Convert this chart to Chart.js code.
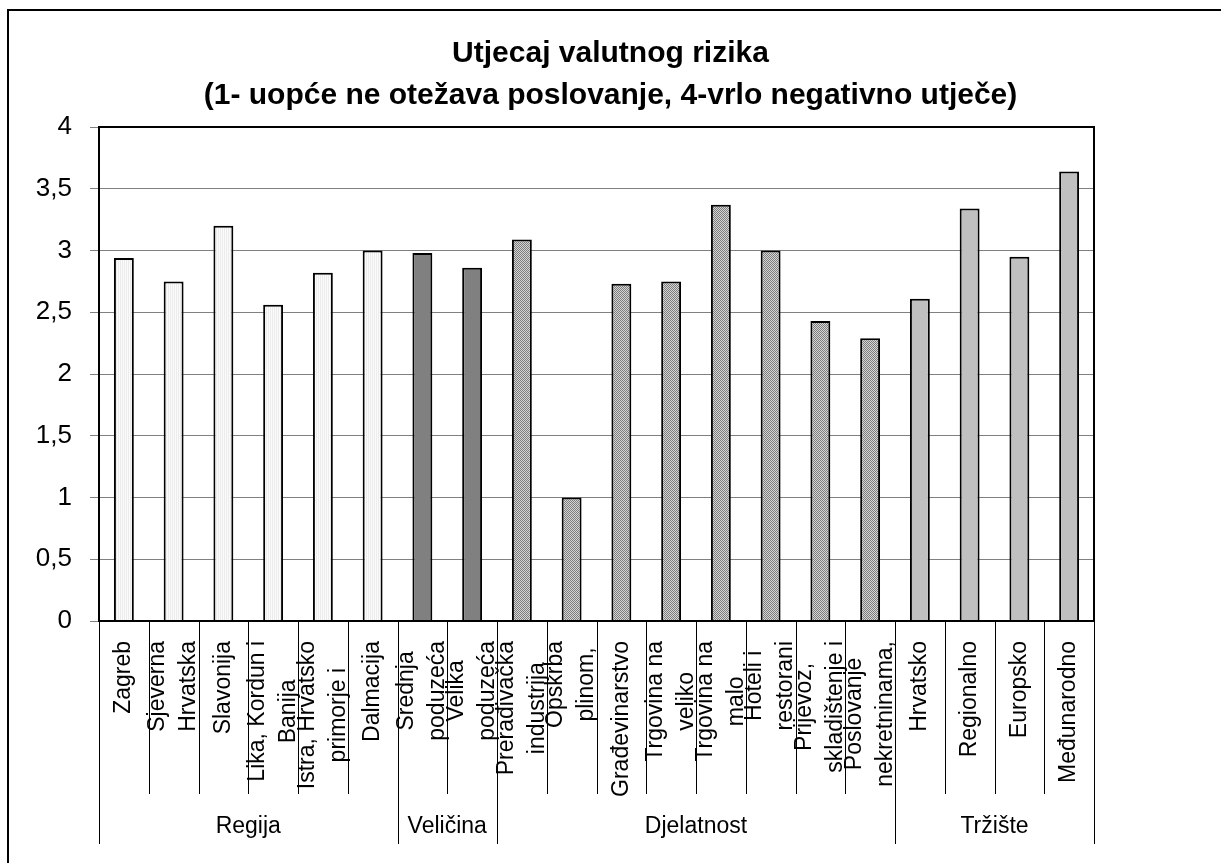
<!DOCTYPE html>
<html>
<head>
<meta charset="utf-8">
<title>Utjecaj valutnog rizika</title>
<script src="https://cdn.jsdelivr.net/npm/chart.js@4.4.1/dist/chart.umd.min.js"></script>
<style>
  html, body { margin: 0; padding: 0; background: #fff; overflow: hidden; }
  canvas { display: block; }
</style>
</head>
<body>
<canvas id="chart" width="1221" height="863"></canvas>
<script>
/* ========================================
   DATA
======================================== */

const titleLines = [
  "Utjecaj valutnog rizika",
  "(1- uopće ne otežava poslovanje, 4-vrlo negativno utječe)"
];

const groupNames = ["Regija", "Veličina", "Djelatnost", "Tržište"];

const regijaLabels = ["Zagreb", ["Sjeverna", "Hrvatska"], "Slavonija", ["Lika, Kordun i", "Banija"], ["Istra, Hrvatsko", "primorje i"], "Dalmacija"];
const regijaValues = [2.94, 2.75, 3.2, 2.56, 2.82, 3.0];

const velicinaLabels = [["Srednja", "poduzeća"], ["Velika", "poduzeća"]];
const velicinaValues = [2.98, 2.86];

const djelatnostLabels = [
  ["Prerađivačka", "industrija"], ["Opskrba", "plinom,"], "Građevinarstvo",
  ["Trgovina na", "veliko"], ["Trgovina na", "malo"], ["Hoteli i", "restorani"],
  ["Prijevoz,", "skladištenje i"], ["Poslovanje", "nekretninama,"]
];
const djelatnostValues = [3.09, 1.0, 2.73, 2.75, 3.37, 3.0, 2.43, 2.29];

const trzisteLabels = ["Hrvatsko", "Regionalno", "Europsko", "Međunarodno"];
const trzisteValues = [2.61, 3.34, 2.95, 3.64];

const yTicks = [0, 0.5, 1, 1.5, 2, 2.5, 3, 3.5, 4];

/* ========================================
   HELPERS
======================================== */

function makePattern(size, draw) {
  const c = document.createElement("canvas");
  c.width = size;
  c.height = size;
  draw(c.getContext("2d"));
  return c.getContext("2d").createPattern(c, "repeat");
}

// light vertical striped fill (Regija)
const stripeFill = makePattern(2, g => {
  g.fillStyle = "#fbfbfb"; g.fillRect(0, 0, 2, 2);
  g.fillStyle = "#ececec"; g.fillRect(0, 0, 1, 2);
});

// fine checker fill (Djelatnost)
const checkerFill = makePattern(2, g => {
  g.fillStyle = "#d6d6d6"; g.fillRect(0, 0, 2, 2);
  g.fillStyle = "#7c7c7c"; g.fillRect(0, 0, 1, 1); g.fillRect(1, 1, 1, 1);
});

const groups = [
  { name: groupNames[0], labels: regijaLabels, values: regijaValues, fill: stripeFill },
  { name: groupNames[1], labels: velicinaLabels, values: velicinaValues, fill: "#808080" },
  { name: groupNames[2], labels: djelatnostLabels, values: djelatnostValues, fill: checkerFill },
  { name: groupNames[3], labels: trzisteLabels, values: trzisteValues, fill: "#c0c0c0" }
];

const allLabels = [], allValues = [], allFills = [], groupStarts = [];
groups.forEach(g => {
  groupStarts.push(allLabels.length);
  g.labels.forEach((l, i) => {
    allLabels.push(l);
    allValues.push(g.values[i]);
    allFills.push(g.fill);
  });
});
groupStarts.push(allLabels.length);

const FONT = '"Liberation Sans", Arial, sans-serif';

/* ========================================
   PLUGINS
======================================== */

// outer chart frame + plot frame
const framePlugin = {
  id: "frame",
  beforeDraw(chart) {
    const ctx = chart.ctx;
    ctx.save();
    ctx.strokeStyle = "#000";
    ctx.lineWidth = 2;
    ctx.strokeRect(8, 10, chart.width + 20, chart.height + 20);
    ctx.restore();
  },
  afterDraw(chart) {
    const { ctx, chartArea: a } = chart;
    ctx.save();
    ctx.strokeStyle = "#000";
    ctx.lineWidth = 2;
    ctx.strokeRect(a.left, a.top, a.right - a.left, a.bottom - a.top);
    ctx.restore();
  }
};

// multi-level category axis (rotated labels + group row)
const categoryAxisPlugin = {
  id: "categoryAxis",
  afterDraw(chart) {
    const ctx = chart.ctx;
    const x = chart.scales.x;
    const labels = chart.data.labels;
    const n = labels.length;
    const step = (x.right - x.left) / n;
    const top = x.top;
    const lineH = 31;

    ctx.save();
    ctx.fillStyle = "#000";
    ctx.font = "23px " + FONT;

    labels.forEach((lab, i) => {
      const lines = Array.isArray(lab) ? lab : [lab];
      const cx = x.getPixelForValue(i);
      const maxW = Math.max(...lines.map(s => ctx.measureText(s).width));
      const midY = top + 20 + maxW / 2;
      lines.forEach((s, j) => {
        const lx = cx + (j - (lines.length - 1) / 2) * lineH;
        ctx.save();
        ctx.translate(lx, midY);
        ctx.rotate(-Math.PI / 2);
        ctx.textAlign = "center";
        ctx.textBaseline = "middle";
        ctx.fillText(s, 0, 0);
        ctx.restore();
      });
    });

    // separators
    ctx.strokeStyle = "#000";
    ctx.lineWidth = 1;
    for (let i = 0; i <= n; i++) {
      const bx = Math.round(x.left + i * step) + 0.5;
      const isGroup = groupStarts.includes(i);
      ctx.beginPath();
      ctx.moveTo(bx, top);
      ctx.lineTo(bx, top + (isGroup ? 223 : 173));
      ctx.stroke();
    }

    // group names
    ctx.textAlign = "center";
    ctx.textBaseline = "middle";
    groups.forEach((g, k) => {
      const gx = x.left + (groupStarts[k] + groupStarts[k + 1]) / 2 * step;
      ctx.fillText(g.name, gx, top + 206);
    });

    ctx.restore();
  }
};

/* ========================================
   CHART
======================================== */

new Chart(document.getElementById("chart"), {
  type: "bar",
  data: {
    labels: allLabels,
    datasets: [{
      data: allValues,
      backgroundColor: allFills,
      borderColor: "#000",
      borderWidth: 2,
      barPercentage: 0.4,
      categoryPercentage: 1
    }]
  },
  options: {
    responsive: false,
    animation: false,
    layout: { padding: 0 },
    plugins: {
      legend: { display: false },
      tooltip: { enabled: false },
      title: {
        display: true,
        text: titleLines,
        color: "#000",
        font: { family: FONT, size: 30, weight: "bold", lineHeight: 42 / 30 },
        padding: { top: 33, bottom: 10 }
      }
    },
    scales: {
      x: {
        grid: { display: false },
        border: { color: "#000", width: 2 },
        ticks: { display: false },
        afterFit: s => { s.height = 242; }
      },
      y: {
        min: 0,
        max: 4,
        afterBuildTicks: s => { s.ticks = yTicks.map(v => ({ value: v })); },
        grid: { color: "#808080", lineWidth: 1, tickLength: 9 },
        border: { color: "#000", width: 2 },
        ticks: {
          color: "#000",
          padding: 18,
          font: { family: FONT, size: 26 },
          callback: v => String(v).replace(".", ",")
        },
        afterFit: s => { s.width = 99; }
      },
      right: {
        position: "right",
        display: true,
        grid: { display: false },
        border: { display: false },
        ticks: { display: false },
        afterFit: s => { s.width = 127; }
      }
    }
  },
  plugins: [framePlugin, categoryAxisPlugin]
});
</script>
</body>
</html>
